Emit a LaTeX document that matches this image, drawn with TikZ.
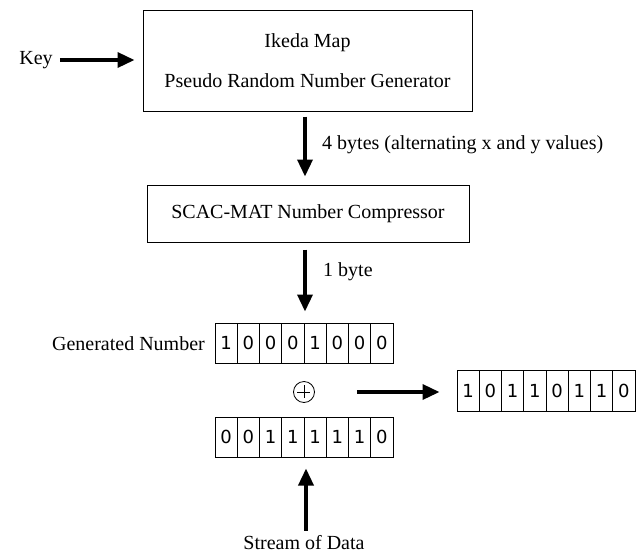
\documentclass[tikz,border=0pt]{standalone}
\usepackage{fontspec}
\setmainfont{Liberation Serif}
\newfontfamily\bitfont{DejaVu Sans}
\usetikzlibrary{arrows.meta}
\tikzset{
  lbl/.style={inner sep=0pt, font=\fontsize{20}{24}\selectfont},
  blockbox/.style={draw, line width=1pt, inner sep=0pt, align=center, font=\fontsize{20}{24}\selectfont},
  bigarrow/.style={line width=3.5pt, -{Triangle[length=17pt,width=15pt]}},
  bitcell/.style={draw, line width=1pt, minimum width=22.25pt, minimum height=40pt, inner sep=0pt, font=\bitfont\fontsize{18}{20}\selectfont},
}
\begin{document}
\begin{tikzpicture}[x=1pt,y=-1pt]
\useasboundingbox (0,0) rectangle (643,555);
% blocks
\node[blockbox, minimum width=329pt, minimum height=101pt] (prng) at (307.5,60.5)
  {Ikeda Map\\[16pt]Pseudo Random Number Generator};
\node[blockbox, minimum width=322pt, minimum height=57pt] (scac) at (308,213.5)
  {SCAC-MAT Number Compressor};
\node[lbl] (key) at (36,60) {Key};
\node[lbl, anchor=west] (lab4) at (322,145) {4 bytes (alternating x and y values)};
\node[lbl, anchor=west] (lab1) at (323,272) {1 byte};
\node[lbl, anchor=east] (gentxt) at (205,344) {Generated Number};
\node[lbl] (stream) at (304,543) {Stream of Data};
% bit rows
\foreach \b [count=\i] in {1,0,0,0,1,0,0,0}
  \node[bitcell] (g\i) at ({215+11.125+22.25*(\i-1)},343) {\b};
\foreach \b [count=\i] in {0,0,1,1,1,1,1,0}
  \node[bitcell] (d\i) at ({215+11.125+22.25*(\i-1)},437) {\b};
\foreach \b [count=\i] in {1,0,1,1,0,1,1,0}
  \node[bitcell, minimum height=41pt] (r\i) at ({457+11.125+22.25*(\i-1)},390.5) {\b};
% xor
\node[draw, circle, line width=0.8pt, minimum size=21pt, inner sep=0pt] (xor) at (304,392) {};
\draw[line width=0.8pt] (xor.north) ++(0,4) -- ++(0,13) (xor.west) ++(4,0) -- ++(13,0);
% arrows
\draw[bigarrow, shorten <=7pt, shorten >=8pt] (key.east) -- (prng.west |- key.east);
\draw[bigarrow, shorten <=5pt, shorten >=8pt] (prng.south -| 305,0) -- (scac.north -| 305,0);
\draw[bigarrow, shorten <=7pt, shorten >=11pt] (scac.south -| 305,0) -- (g4.north -| 305,0);
\draw[bigarrow, shorten <=42pt, shorten >=17pt] (xor.east) -- (r1.west |- xor.east);
\draw[bigarrow, shorten <=5pt, shorten >=11pt] (stream.north -| 306,0) -- (d4.south -| 306,0);
\end{tikzpicture}
\end{document}
